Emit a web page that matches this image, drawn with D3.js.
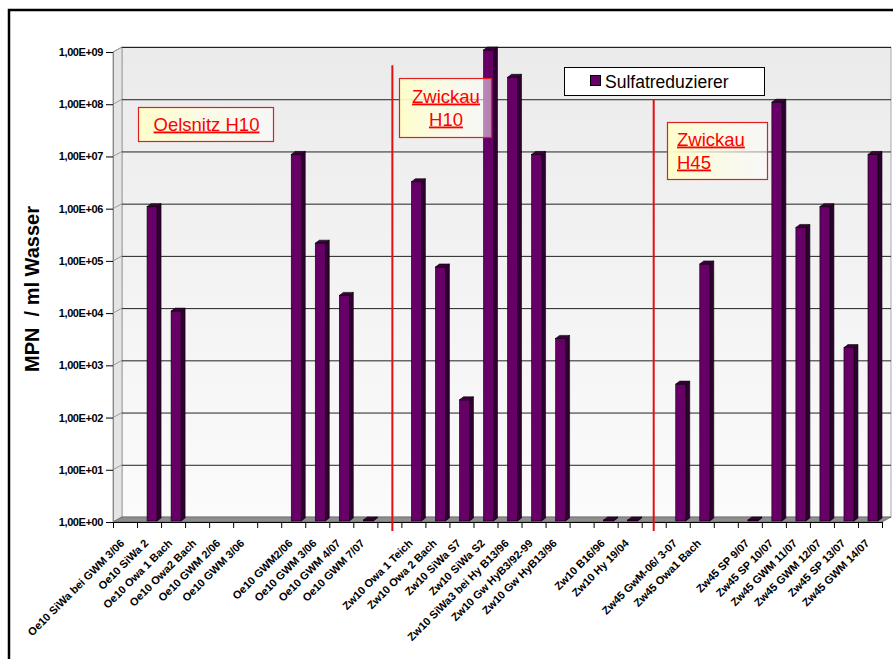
<!DOCTYPE html>
<html><head><meta charset="utf-8">
<script src="https://cdn.jsdelivr.net/npm/d3@7/dist/d3.min.js"></script>
<style>body{margin:0;background:#fff}svg{display:block}text{font-family:"Liberation Sans",Arial,sans-serif}</style>
</head><body>
<svg id="c" width="893" height="659"></svg>
<script>
// ---- data ----
const categories = [
 "Oe10 SiWa bei GWM 3/06","Oe10 SiWa 2","Oe10 Owa 1 Bach","Oe10 Owa2 Bach","Oe10 GWM 2/06","Oe10 GWM 3/06","",
 "Oe10 GWM2/06","Oe10 GWM 3/06 ","Oe10 GWM 4/07","Oe10 GWM 7/07"," ",
 "Zw10 Owa 1 Teich","Zw10 Owa 2 Bach","Zw10 SiWa S7","Zw10 SiWa S2","Zw10 SiWa3 bei Hy B13/96","Zw10 Gw HyB3/92-99","Zw10 Gw HyB13/96","  ",
 "Zw10 B16/96","Zw10 Hy 19/04","   ",
 "Zw45 GwM-06/ 3-07","Zw45 Owa1 Bach","    ",
 "Zw45 SP 9/07","Zw45 SP 10/07","Zw45 GWM 11/07","Zw45 GWM 12/07","Zw45 SP 13/07","Zw45 GWM 14/07"
];
const sulfatreduzierer = [
 null,1e6,1e4,null,null,null,null,
 1e7,2e5,2e4,1,null,
 3e6,7e4,2e2,1e9,3e8,1e7,3e3,null,
 1,1,null,
 4e2,8e4,null,
 1,1e8,4e5,1e6,2e3,1e7
];
const seriesName = "Sulfatreduzierer";
const yTicks = [1,1e1,1e2,1e3,1e4,1e5,1e6,1e7,1e8,1e9];
const yTickLabels = ["1,00E+00","1,00E+01","1,00E+02","1,00E+03","1,00E+04","1,00E+05","1,00E+06","1,00E+07","1,00E+08","1,00E+09"];
const yTitle = "MPN\u00a0\u00a0/ ml Wasser";
const groupLines = [{after: 11, top: 5.6e8, shift: 3}, {after: 22, top: 1.2e8, shift: 0}];
const annotations = [
 {lines:["Oelsnitz H10"], x:138, y:107, w:135, h:34, align:"middle"},
 {lines:["Zwickau","H10"], x:399, y:78, w:92, h:59, align:"middle"},
 {lines:["Zwickau","H45"], x:667, y:122, w:100, h:57, align:"start"}
];

// ---- layout ----
const svg = d3.select("#c");
const X0 = 113, X1 = 882, DX = 9, DY = -5;
const x = d3.scaleBand().domain(categories).range([X0, X1]).padding(0);
const y = d3.scaleLog().domain([1, 1e9]).range([522, 52]);
const bw = 10, bdx = 4, bdy = -3;

const defs = svg.append("defs");
const wg = defs.append("linearGradient").attr("id","wall").attr("x1",0).attr("y1",0).attr("x2",0).attr("y2",1);
wg.append("stop").attr("offset","0%").attr("stop-color","#ebebeb");
wg.append("stop").attr("offset","100%").attr("stop-color","#fbfbfb");
const ag = defs.append("linearGradient").attr("id","anno").attr("x1",0).attr("y1",0).attr("x2",1).attr("y2",0);
ag.append("stop").attr("offset","0%").attr("stop-color","#ffffc8").attr("stop-opacity",0.95);
ag.append("stop").attr("offset","100%").attr("stop-color","#ffffff").attr("stop-opacity",0.5);

// chart border (left + top)
svg.append("path").attr("d","M9,659 L9,10 L893,10").attr("fill","none").attr("stroke","#000").attr("stroke-width",2.5);

// back wall
svg.append("rect").attr("x",X0+DX).attr("y",y(1e9)+DY).attr("width",X1-X0).attr("height",y(1)-y(1e9))
  .attr("fill","url(#wall)").attr("stroke","#a8a8a8").attr("stroke-width",1);
// side wall
svg.append("path").attr("d",`M${X0},${y(1e9)} L${X0+DX},${y(1e9)+DY} L${X0+DX},${y(1)+DY} L${X0},${y(1)} Z`)
  .attr("fill","#e4e4e4").attr("stroke","#a0a0a0");

// gridlines
yTicks.forEach(v => {
  svg.append("line").attr("x1",X0+DX).attr("x2",X1+DX).attr("y1",y(v)+DY+0.5).attr("y2",y(v)+DY+0.5).attr("stroke","#222").attr("stroke-width",1);
  svg.append("line").attr("x1",X0).attr("x2",X0+DX).attr("y1",y(v)).attr("y2",y(v)+DY).attr("stroke","#999");
});

// floor
svg.append("path").attr("d",`M${X0},${y(1)} L${X1},${y(1)} L${X1+DX},${y(1)+DY} L${X0+DX},${y(1)+DY} Z`)
  .attr("fill","#8e8e8e").attr("stroke","#6a6a6a").attr("stroke-width",0.8);

// y axis
svg.append("line").attr("x1",X0+0.5).attr("x2",X0+0.5).attr("y1",y(1e9)).attr("y2",y(1)).attr("stroke","#888");
const yAxis = d3.axisLeft(y).tickValues(yTicks).tickFormat((d,i)=>yTickLabels[i]).tickSize(7).tickPadding(3);
const yg = svg.append("g").attr("transform",`translate(${X0},0)`).call(yAxis);
yg.select(".domain").remove();
yg.selectAll("line").attr("stroke","#000");
yg.selectAll("text").attr("font-size","11px").attr("font-weight","bold").attr("fill","#000").attr("letter-spacing","-0.4px");

// x axis
const xAxis = d3.axisBottom(x).tickSize(6).tickFormat("");
const xg = svg.append("g").attr("transform",`translate(0,${y(1)})`).call(xAxis);
xg.select(".domain").attr("stroke","#000");
xg.selectAll(".tick").remove();
const bounds = categories.map(c => x(c)).concat([X1]);
xg.selectAll("line.b").data(bounds).join("line").attr("class","b")
  .attr("x1",d=>d+0.5).attr("x2",d=>d+0.5).attr("y1",0).attr("y2",6).attr("stroke","#000");
svg.append("g").selectAll("text").data(categories).join("text")
  .attr("transform",d=>`translate(${x(d)+x.bandwidth()/2},${y(1)+22}) rotate(-45)`)
  .attr("text-anchor","end").attr("font-size","11px").attr("font-weight","bold")
  .text(d=>d.trim());

// bars
const barData = categories.map((c,i)=>({c, v:sulfatreduzierer[i]})).filter(d=>d.v!==null);
const bars = svg.append("g");
const base = y(1) - 1;
barData.forEach(d => {
  const x0 = x(d.c) + x.bandwidth()/2 + 3 - bw/2, x1 = x0 + bw;
  const top = y(d.v) - 2;
  const g = bars.append("g");
  if (base - top > 0.5) {
    g.append("path").attr("d",`M${x1},${top} L${x1+bdx},${top+bdy} L${x1+bdx},${base+bdy} L${x1},${base} Z`)
      .attr("fill","#2e002e").attr("stroke","#000").attr("stroke-width",0.6);
    g.append("rect").attr("x",x0).attr("y",top).attr("width",bw).attr("height",base-top)
      .attr("fill","#660066").attr("stroke","#000").attr("stroke-width",0.6);
  }
  g.append("path").attr("d",`M${x0},${top} L${x0+bdx},${top+bdy} L${x1+bdx},${top+bdy} L${x1},${top} Z`)
    .attr("fill","#3d003d").attr("stroke","#000").attr("stroke-width",0.6);
});

// group separator lines
groupLines.forEach(g => {
  const cx = x(categories[g.after]) + x.bandwidth()/2 + g.shift;
  svg.append("line").attr("x1",cx).attr("x2",cx).attr("y1",y(g.top)).attr("y2",y(1)+9)
    .attr("stroke","#e41010").attr("stroke-width",2);
});

// legend
const lg = svg.append("g");
lg.append("rect").attr("x",564.5).attr("y",67.5).attr("width",200).attr("height",28).attr("fill","#fff").attr("stroke","#000");
lg.append("rect").attr("x",590.5).attr("y",75.5).attr("width",10).attr("height",10).attr("fill","#660066").attr("stroke","#000");
lg.append("text").attr("x",605).attr("y",88).attr("font-size","17.5px").attr("fill","#000").text(seriesName);

// annotations
annotations.forEach(a => {
  const g = svg.append("g");
  g.append("rect").attr("x",a.x+0.5).attr("y",a.y+0.5).attr("width",a.w).attr("height",a.h)
    .attr("fill","url(#anno)").attr("stroke","#e02020").attr("stroke-width",1.2);
  const n = a.lines.length;
  a.lines.forEach((t,i) => {
    const ty = a.y + a.h/2 + 6.5 + (i - (n-1)/2) * 23;
    g.append("text").attr("x", a.align==="middle" ? a.x + a.w/2 + 1 : a.x + 10).attr("y", ty)
      .attr("text-anchor", a.align).attr("font-size","18.5px").attr("fill","#ff0000")
      .attr("text-decoration","underline").text(t);
  });
});

// y title
svg.append("text").attr("transform","translate(39,289) rotate(-90)").attr("text-anchor","middle")
  .attr("font-size","20px").attr("font-weight","bold").attr("fill","#000").text(yTitle);
</script>
</body></html>
